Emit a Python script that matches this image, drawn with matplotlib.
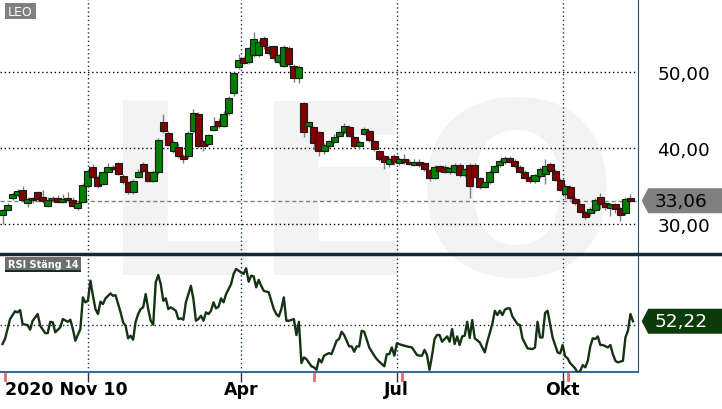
import matplotlib
matplotlib.use('Agg')
import matplotlib.pyplot as plt
import matplotlib.transforms as mtransforms
from matplotlib.patches import Polygon, Rectangle
from matplotlib.lines import Line2D
import numpy as np

# daily-ish candles (one every 2 trading days)
opens = [31.2, 31.9, 33.4, 33.8, 34.5, 32.7, 33.4, 34.2, 33.6, 32.4,
         33.1, 33.4, 32.9, 33.4, 33.2, 32.1, 32.9, 35.0, 37.5, 36.2,
         35.3, 36.9, 37.5, 38.0, 36.3, 35.5, 34.2, 36.2, 37.9, 36.8,
         35.7, 36.9, 43.4, 42.0, 39.6, 40.1, 39.0, 38.9, 42.2, 44.5,
         40.9, 40.5, 42.4, 43.5, 42.9, 44.6, 47.2, 50.6, 51.8, 51.3,
         52.2, 52.2, 54.5, 53.3, 53.4, 51.3, 50.8, 53.2, 50.8, 49.2,
         45.9, 42.9, 42.8, 42.1, 39.6, 40.3, 40.8, 41.6, 42.1, 42.8,
         41.4, 40.3, 41.9, 42.2, 40.9, 39.6, 38.9, 37.9, 39.0, 38.0,
         38.6, 38.2, 37.8, 38.2, 38.0, 37.1, 36.1, 37.6, 37.5, 36.8,
         36.9, 37.8, 36.4, 37.8, 37.8, 36.0, 34.9, 35.5, 36.9, 37.7,
         38.1, 38.7, 38.3, 37.5, 36.9, 36.2, 35.6, 36.3, 36.6, 37.9,
         37.0, 35.8, 34.0, 34.9, 33.3, 32.6, 31.6, 31.4, 31.8, 33.6,
         32.7, 32.1, 32.6, 32.1, 31.4, 33.4]
closes = [31.8, 32.5, 34.0, 34.3, 33.1, 33.3, 33.1, 33.3, 33.0, 33.2,
          33.4, 32.9, 33.3, 33.1, 32.4, 32.8, 35.1, 37.0, 36.2, 35.0,
          36.8, 37.5, 37.3, 36.6, 35.5, 34.2, 35.7, 36.9, 37.0, 35.7,
          36.9, 41.1, 42.2, 40.4, 40.8, 38.9, 38.5, 42.0, 44.6, 40.2,
          40.3, 41.7, 42.9, 42.9, 44.5, 46.6, 49.8, 51.6, 51.2, 53.1,
          54.4, 54.0, 53.4, 52.5, 51.8, 52.2, 53.3, 51.0, 49.2, 50.6,
          42.1, 43.4, 40.6, 39.6, 40.4, 40.9, 41.4, 42.1, 42.9, 41.6,
          40.3, 40.8, 42.5, 41.0, 39.9, 38.6, 38.2, 38.6, 38.1, 38.6,
          38.1, 37.9, 38.2, 37.8, 37.2, 36.0, 37.5, 37.0, 36.9, 37.4,
          37.8, 36.4, 37.2, 35.0, 36.2, 34.9, 35.5, 36.9, 37.6, 38.3,
          38.7, 38.2, 37.6, 36.9, 36.1, 35.6, 36.4, 37.3, 37.6, 37.0,
          35.8, 34.5, 35.0, 33.4, 32.7, 31.6, 30.9, 32.0, 33.2, 32.6,
          32.3, 32.6, 32.0, 31.2, 33.3, 33.06]
highs = [32.0, 32.7, 34.2, 34.6, 35.0, 33.6, 33.6, 34.4, 34.5, 33.5,
         33.7, 33.8, 34.0, 34.2, 33.6, 33.0, 35.4, 37.3, 37.9, 36.4,
         37.0, 38.0, 37.7, 38.1, 36.6, 35.7, 35.9, 37.2, 38.2, 37.0,
         37.1, 41.3, 44.5, 42.2, 41.0, 40.6, 39.2, 42.2, 45.1, 44.7,
         41.0, 41.9, 44.1, 44.0, 44.8, 46.9, 50.0, 52.3, 52.1, 53.3,
         55.3, 54.2, 54.7, 53.6, 53.6, 52.4, 53.5, 53.4, 51.0, 50.9,
         46.0, 43.6, 42.9, 42.3, 40.6, 41.1, 41.9, 42.3, 43.3, 43.0,
         41.6, 41.0, 42.8, 42.4, 41.1, 39.8, 39.1, 38.8, 39.2, 38.8,
         39.2, 38.5, 38.6, 38.6, 38.2, 37.3, 37.7, 37.8, 37.7, 37.6,
         38.0, 38.0, 37.4, 38.0, 38.0, 36.2, 35.7, 37.1, 37.8, 38.5,
         38.9, 38.9, 38.5, 37.7, 37.1, 36.4, 36.6, 37.5, 38.5, 38.1,
         37.2, 36.0, 35.3, 35.1, 33.5, 32.8, 31.8, 32.2, 33.4, 34.1,
         32.9, 32.8, 32.8, 32.3, 33.5, 34.0]
lows = [30.0, 31.7, 33.2, 33.6, 32.9, 32.3, 32.8, 33.0, 32.8, 32.3,
        32.9, 32.7, 32.8, 32.9, 32.2, 31.9, 32.7, 34.8, 36.0, 34.8,
        35.1, 36.8, 37.1, 36.4, 35.3, 34.0, 34.0, 36.0, 36.8, 35.5,
        35.5, 36.6, 42.0, 40.2, 39.4, 38.7, 38.0, 38.7, 42.0, 40.0,
        39.6, 40.3, 42.2, 42.6, 42.7, 44.4, 46.8, 50.4, 51.0, 51.1,
        52.0, 52.0, 53.0, 52.2, 51.5, 51.0, 50.6, 50.7, 48.7, 48.6,
        41.5, 42.7, 39.8, 38.9, 39.2, 40.0, 40.6, 41.4, 41.9, 41.4,
        40.0, 39.9, 41.7, 40.8, 39.6, 38.3, 37.2, 37.5, 37.7, 37.8,
        37.9, 37.7, 37.6, 37.5, 37.0, 35.6, 35.9, 36.8, 36.7, 36.6,
        36.7, 36.2, 36.2, 33.4, 36.0, 34.6, 34.7, 35.3, 36.7, 37.5,
        37.9, 38.0, 37.4, 36.7, 35.9, 35.4, 35.4, 36.1, 35.2, 36.8,
        35.6, 34.3, 33.3, 33.2, 32.5, 31.4, 30.6, 31.0, 31.6, 32.0,
        31.8, 31.1, 31.4, 30.4, 31.2, 32.9]
candle_days = np.arange(1, 1 + 2 * len(opens), 2)

# RSI 14 (trading-day index, value)
rsi_days = [1, 2, 3, 4, 6, 7, 8, 9, 11, 12, 13, 15, 16, 18, 19, 20, 21, 22, 24, 25,
            27, 28, 29, 30, 32, 33, 34, 35, 36, 37, 38, 39, 40, 41, 42, 44, 45, 46, 48, 49,
            50, 51, 52, 53, 54, 55, 56, 57, 58, 59, 60, 61, 62, 63, 64, 65, 66, 67, 68, 70,
            71, 72, 73, 74, 76, 77, 78, 79, 80, 81, 82, 83, 84, 85, 86, 87, 88, 89, 90, 91,
            92, 93, 94, 96, 97, 98, 99, 100, 101, 102, 103, 104, 105, 107, 109, 110, 111, 112, 113, 114,
            115, 117, 118, 119, 120, 121, 122, 124, 125, 126, 127, 128, 129, 131, 132, 134, 135, 136, 137, 139,
            140, 141, 142, 143, 144, 145, 147, 149, 150, 151, 153, 154, 155, 156, 157, 158, 160, 162, 164, 166,
            167, 168, 169, 170, 171, 172, 173, 174, 175, 176, 178, 179, 180, 181, 182, 183, 184, 185, 186, 187,
            188, 189, 191, 192, 193, 194, 196, 197, 198, 199, 200, 201, 202, 203, 204, 206, 207, 208, 210, 212,
            213, 214, 215, 216, 217, 218, 219, 220, 222, 223, 224, 225, 226, 227, 229, 230, 231, 232, 233, 234,
            235, 236, 237, 238, 239, 240, 242, 243, 244, 245, 246, 248, 249, 250, 251, 252]
rsi_vals = [39.0, 41.9, 47.7, 53.5, 58.0, 57.4, 58.7, 50.6, 50.0, 47.3, 52.5, 56.4, 49.6, 45.3, 45.3, 51.9, 51.6, 45.8, 48.7, 53.5,
            51.9, 53.1, 47.7, 40.9, 47.7, 66.1, 63.2, 64.1, 75.8, 67.0, 59.3, 56.4, 63.6, 62.2, 65.5, 68.4, 67.0, 67.4, 57.4, 51.6,
            49.6, 42.3, 43.8, 41.5, 51.9, 56.4, 59.3, 60.3, 68.0, 59.3, 52.5, 50.2, 74.8, 79.1, 73.8, 64.1, 65.5, 59.3, 60.3, 58.3,
            53.5, 53.9, 53.1, 63.2, 72.8, 65.1, 52.5, 53.5, 55.4, 52.5, 57.4, 56.4, 58.3, 63.2, 59.7, 60.6, 65.5, 63.2, 68.0, 70.9,
            73.8, 79.7, 82.6, 80.6, 79.7, 83.0, 75.2, 78.7, 78.3, 71.9, 76.3, 72.8, 69.9, 69.0, 59.3, 56.4, 55.0, 59.3, 66.1, 52.5,
            52.5, 53.5, 44.2, 51.9, 27.9, 31.2, 30.2, 26.0, 25.4, 24.0, 30.2, 28.3, 32.2, 33.7, 33.1, 40.9, 41.9, 46.1, 44.2, 37.6,
            37.6, 34.5, 37.6, 37.6, 46.7, 46.1, 37.0, 32.2, 30.2, 28.7, 26.0, 33.1, 33.1, 37.0, 32.2, 39.4, 38.4, 37.6, 37.0, 32.6,
            32.2, 32.2, 35.6, 32.6, 24.0, 32.2, 41.9, 44.2, 44.2, 40.3, 43.4, 40.3, 47.7, 39.0, 43.4, 38.4, 43.4, 43.8, 51.9, 42.5,
            52.9, 42.3, 39.9, 37.0, 34.1, 40.3, 50.6, 58.3, 55.8, 58.3, 55.8, 58.9, 59.7, 59.7, 55.0, 50.6, 50.0, 42.3, 36.5, 36.0,
            37.0, 51.9, 42.8, 42.8, 57.0, 58.3, 50.6, 42.8, 34.1, 33.5, 38.4, 31.8, 30.6, 27.9, 24.8, 22.1, 23.4, 26.7, 25.4, 29.2,
            37.6, 42.3, 41.9, 43.4, 38.4, 38.4, 37.0, 38.4, 33.1, 29.2, 28.3, 29.2, 42.8, 46.7, 56.4, 52.22]

grid_days = [35, 96, 158, 224]
tick_labels = ['', 'Apr', 'Jul', 'Okt']
marker_days = [2, 125, 160, 226]
price_ticks = [30, 40, 50]
price_labels = ['30,00', '40,00', '50,00']

fig = plt.figure(figsize=(7.22, 4.10), dpi=100)
fig.patch.set_facecolor('white')

# big watermark behind both panels
fig.text(100 / 722, 1 - 275 / 410, 'LEO', fontsize=172, fontweight='bold',
         color='#f3f3f3', ha='left', va='baseline', zorder=-5)

ax = fig.add_axes([0, 0.378, 638 / 722, 0.622])
ax2 = fig.add_axes([0, 0.0902, 638 / 722, 0.2878], sharex=ax)
for a in (ax, ax2):
  a.set_facecolor('none')
  a.spines['top'].set_visible(False)
  a.spines['left'].set_visible(False)
  a.spines['right'].set_color('#2a4a6a')
  for d in grid_days:
    a.axvline(d, color='#1a3550', lw=1, ls=(0, (1, 2)), zorder=1)

# price panel
ax.set_xlim(0, 254)
ax.set_ylim(26.05, 59.6)
for y in price_ticks:
  ax.axhline(y, color='black', lw=1, ls=(0, (1, 2)), zorder=1)
ax.axhline(closes[-1], color='#808080', lw=1, ls=(0, (3, 2)), zorder=1)

o = np.array(opens)
c = np.array(closes)
colors = ['#008000' if cc >= oo else '#800000' for oo, cc in zip(o, c)]
bottoms = np.minimum(o, c)
heights = np.maximum(np.abs(c - o), 0.15)
ax.vlines(candle_days, lows, highs, color='#7f7f7f', lw=1, zorder=2)
ax.bar(candle_days, heights, bottom=bottoms, width=2.8, color=colors,
       edgecolor='#1b1b1b', linewidth=0.8, zorder=3)

ax.yaxis.tick_right()
ax.set_yticks(price_ticks)
ax.set_yticklabels(price_labels)
ax.tick_params(axis='y', length=0, pad=14, labelsize=13.3)
ax.tick_params(axis='x', bottom=False, labelbottom=False)
ax.spines['bottom'].set_visible(False)

# last price box
trans = mtransforms.blended_transform_factory(ax.transAxes, ax.transData)
hh = 12.5 / 7.6
last = closes[-1]
ax.add_patch(Polygon([(1.0058, last), (1.016, last + hh), (1.15, last + hh),
                      (1.15, last - hh), (1.016, last - hh)], closed=True,
                     transform=trans, facecolor='#808080', edgecolor='none', clip_on=False))
ax.text(1.026, last, '33,06', transform=trans, ha='left', va='center',
        fontsize=13.3, color='black', clip_on=False)

# RSI panel
ax2.set_ylim(22.7, 91.3)
ax2.axhline(50, color='#1a2a3a', lw=1, ls=(0, (1, 2)), zorder=1)
ax2.plot(rsi_days, rsi_vals, color='#143214', lw=1.7, zorder=3)
ax2.set_yticks([])
ax2.spines['bottom'].set_color('#3a6a9a')
ax2.spines['bottom'].set_linewidth(1.5)
ax2.set_xticks(grid_days)
ax2.set_xticklabels(tick_labels, fontweight='bold')
ax2.tick_params(axis='x', length=7, width=1, color='#1a3550', labelsize=12.5, pad=-1)

trans2 = mtransforms.blended_transform_factory(ax2.transData, ax2.transAxes)
ax2.text(2, -0.145, '2020 Nov 10', transform=trans2, ha='left', va='center',
         fontsize=12.5, fontweight='bold')
for d in marker_days:
  ax2.plot([d, d], [-0.017, -0.068], transform=trans2, color='#f06464',
           lw=2, clip_on=False)

trans3 = mtransforms.blended_transform_factory(ax2.transAxes, ax2.transData)
rh = 12.5 / 1.72
rl = rsi_vals[-1]
ax2.add_patch(Polygon([(1.0058, rl), (1.016, rl + rh), (1.15, rl + rh),
                       (1.15, rl - rh), (1.016, rl - rh)], closed=True,
                      transform=trans3, facecolor='#0b3a0b', edgecolor='none', clip_on=False))
ax2.text(1.026, rl, '52,22', transform=trans3, ha='left', va='center',
         fontsize=13.3, color='white', clip_on=False)

# panel separator across full width
fig.add_artist(Line2D([0, 1], [1 - 255 / 410, 1 - 255 / 410], color='#0f2a3c',
                      lw=2.5, transform=fig.transFigure))

# name labels
fig.add_artist(Rectangle((5 / 722, 1 - 20 / 410), 31 / 722, 16 / 410,
                         transform=fig.transFigure, facecolor='#808080', edgecolor='none'))
fig.text(20.5 / 722, 1 - 12 / 410, 'LEO', ha='center', va='center', fontsize=9, color='white')
fig.add_artist(Rectangle((5 / 722, 1 - 271 / 410), 76 / 722, 13 / 410,
                         transform=fig.transFigure, facecolor='#6e6e6e', edgecolor='none'))
fig.add_artist(Rectangle((5 / 722, 1 - 273 / 410), 76 / 722, 2 / 410,
                         transform=fig.transFigure, facecolor='#143214', edgecolor='none'))
fig.text(43 / 722, 1 - 264.5 / 410, 'RSI Stäng 14', ha='center', va='center',
         fontsize=7, fontweight='bold', color='white')

fig.savefig('out.png', dpi=100)
